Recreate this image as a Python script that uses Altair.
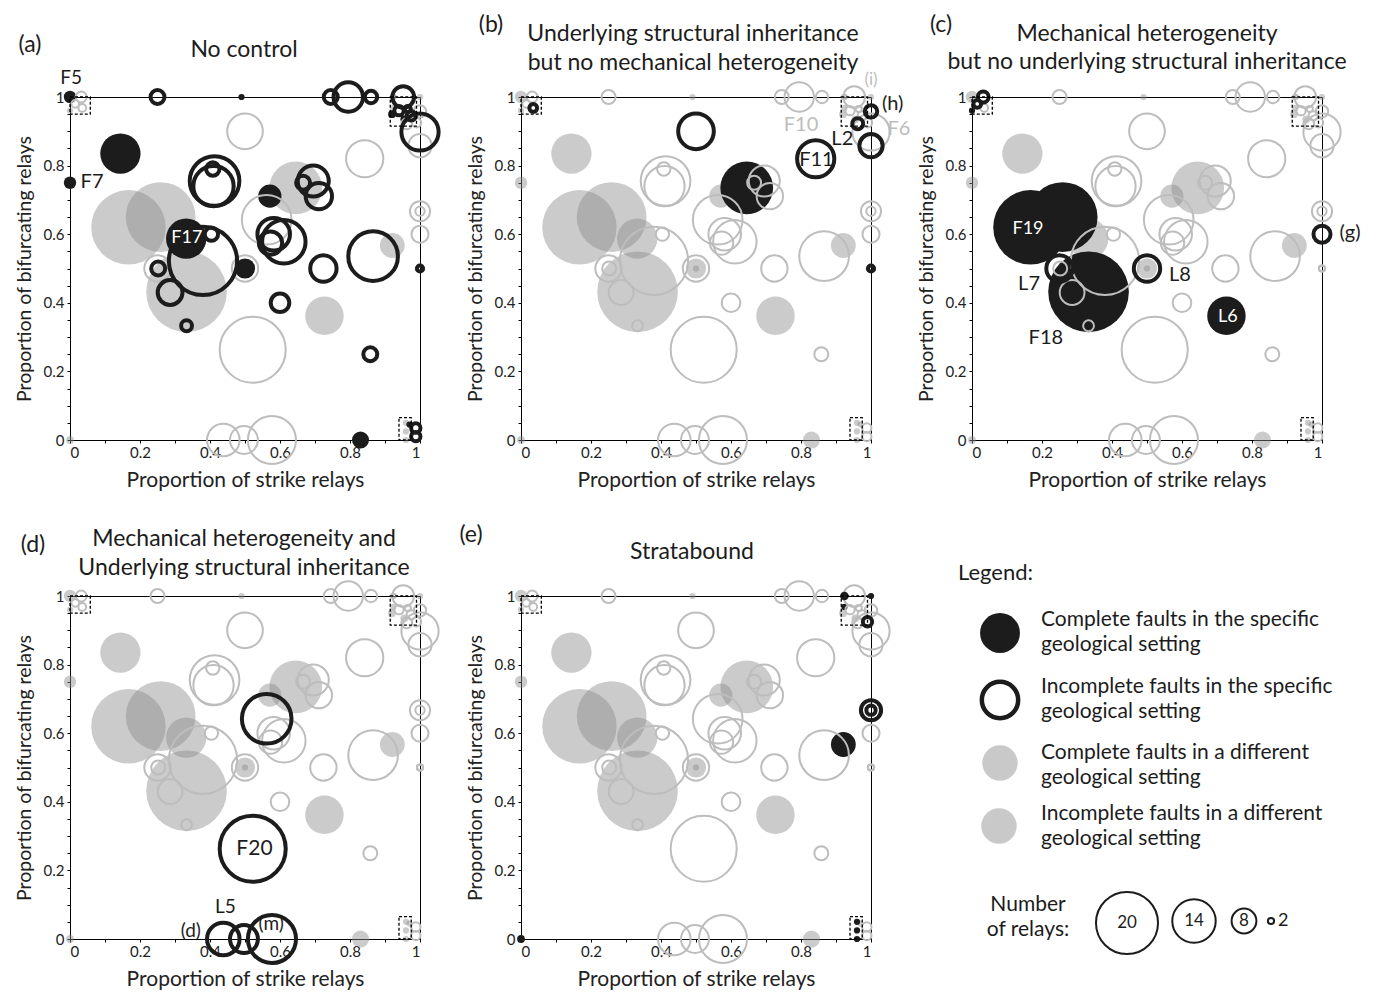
import altair as alt
import pandas as pd

# ---------------- fault data (x = proportion strike relays, y = proportion bifurcating relays, n = number of relays)
# setting a : no control
a_x = [0.0, 0.0, 0.144, 0.332, 0.571, 0.5, 0.83, 0.49, 0.92, 0.955, 0.97,
       0.25, 0.745, 0.795, 0.86, 0.952, 1.0, 0.408, 0.413, 0.41, 0.38, 0.404, 0.252, 0.286, 0.333,
       0.6, 0.582, 0.611, 0.573, 0.666, 0.695, 0.711, 0.724, 0.866, 0.858, 1.0, 0.94, 0.975, 0.965,
       0.988, 0.988]
a_y = [1.0, 0.75, 0.835, 0.587, 0.711, 0.5, 0.0, 1.0, 0.95, 0.935, 0.045,
       1.0, 1.0, 1.0, 1.0, 1.0, 0.898, 0.79, 0.755, 0.74, 0.522, 0.6, 0.5, 0.43, 0.333,
       0.4, 0.6, 0.578, 0.574, 0.75, 0.755, 0.711, 0.5, 0.536, 0.25, 0.5, 0.96, 0.945, 0.965,
       0.035, 0.01]
a_n = [4, 4, 13, 13, 7.5, 6.5, 5.5, 2, 2.5, 2.5, 2,
       4.5, 4.5, 9.5, 4, 7, 12, 4.3, 16, 13, 22, 4.3, 4.5, 8, 3.5,
       6, 10.5, 14, 7.5, 4.5, 10, 8.5, 8.5, 16, 4.5, 2, 3, 3, 2,
       3, 3]
a_complete = [1] * 11 + [0] * 30

# setting b : underlying structural inheritance, no mechanical heterogeneity
b_x = [0.645, 0.5, 0.842, 1.0, 1.0, 0.962, 0.035, 1.0]
b_y = [0.735, 0.9, 0.82, 0.858, 0.958, 0.922, 0.968, 0.5]
b_n = [17, 11.5, 12, 7.5, 4, 3.5, 2.5, 2]
b_complete = [1, 0, 0, 0, 0, 0, 0, 0]

# setting c : mechanical heterogeneity, no underlying structural inheritance
c_x = [0.167, 0.259, 0.333, 0.727, 0.0, 0.5, 1.0, 0.25, 0.032, 0.015]
c_y = [0.62, 0.65, 0.432, 0.362, 0.96, 0.5, 0.6, 0.5, 1.0, 0.98]
c_n = [24, 22.5, 26, 12.4, 2, 8.5, 5.5, 8.5, 3.5, 2.5]
c_complete = [1, 1, 1, 1, 1, 0, 0, 0, 0, 0]

# setting d : mechanical heterogeneity and underlying structural inheritance
d_x = [0.562, 0.522, 0.438, 0.497, 0.577]
d_y = [0.642, 0.263, 0.0, 0.0, 0.0]
d_n = [16, 21.3, 10.5, 9, 15.5]
d_complete = [0, 0, 0, 0, 0]

# setting e : stratabound
e_x = [0.921, 0.0, 0.924, 1.0, 0.96, 0.96, 0.96, 1.0, 1.0, 0.99, 0.924]
e_y = [0.567, 0.0, 0.968, 1.0, 0.05, 0.025, 0.0, 0.667, 0.667, 0.925, 1.0]
e_n = [8, 2.5, 2, 2, 2, 2, 2, 6.5, 3, 3, 1.5]
e_complete = [1, 1, 1, 1, 1, 1, 1, 0, 0, 0, 0]

# fault not highlighted in any panel
z_x = [0.5]
z_y = [0.5]
z_n = [2]
z_complete = [1]

# dashed inset boxes
box_x0 = [0.0, 0.915, 0.94]
box_x1 = [0.058, 0.99, 0.975]
box_y0 = [0.95, 0.915, 0.0]
box_y1 = [1.0, 1.0, 0.065]

# fault labels
label_panel = ['a', 'a', 'a', 'b', 'b', 'b', 'b', 'b', 'b', 'c', 'c', 'c', 'c', 'c', 'c', 'd', 'd', 'd', 'd']
label_text = ['F5', 'F7', 'F17', '(i)', '(h)', 'F10', 'F6', 'L2', 'F11', 'F19', 'L7', 'L8', 'L6', 'F18', '(g)',
              'F20', 'L5', '(d)', '(m)']
label_x = [0.003, 0.063, 0.334, 1.0, 1.062, 0.80, 1.08, 0.918, 0.844, 0.16, 0.163, 0.594, 0.731, 0.211, 1.08,
           0.527, 0.444, 0.345, 0.575]
label_y = [1.056, 0.751, 0.589, 1.049, 0.98, 0.919, 0.907, 0.878, 0.817, 0.615, 0.455, 0.481, 0.359, 0.297, 0.603,
           0.261, 0.093, 0.023, 0.043]
label_color = ['#1c1c1c', '#1c1c1c', 'white', '#bdbdbd', '#1c1c1c', '#bdbdbd', '#bdbdbd', '#1c1c1c', '#1c1c1c',
               'white', '#1c1c1c', '#1c1c1c', 'white', '#1c1c1c', '#1c1c1c', '#1c1c1c', '#1c1c1c', '#1c1c1c',
               '#1c1c1c']
label_size = [19, 20, 18, 17, 20, 20, 20, 20, 20, 18, 20, 20, 18, 20, 20, 21, 19, 19, 19]

# legend content
legend_sym_y = [37, 104, 167, 230]
legend_lines = ['Complete faults in the specific', 'geological setting',
                'Incomplete faults in the specific', 'geological setting',
                'Complete faults in a different', 'geological setting',
                'Incomplete faults in a different', 'geological setting']
legend_line_y = [24, 49, 91, 116, 157, 182, 218, 243]
size_key_n = [20, 14, 8, 2]
size_key_x = [155, 222, 272, 299]
size_key_y = [327, 325, 325, 325]
size_key_label = ['20', '14', '8', '']

# ---------------- build tables
rows = []
for key, xs_, ys_, ns_, cs_ in [('a', a_x, a_y, a_n, a_complete), ('b', b_x, b_y, b_n, b_complete),
                                ('c', c_x, c_y, c_n, c_complete), ('d', d_x, d_y, d_n, d_complete),
                                ('e', e_x, e_y, e_n, e_complete), ('z', z_x, z_y, z_n, z_complete)]:
    for xv, yv, nv, cv in zip(xs_, ys_, ns_, cs_):
        rows.append({'x': xv, 'y': yv, 'n': nv, 'complete': cv, 'setting': key})
faults = pd.DataFrame(rows)
boxes = pd.DataFrame({'bx0': box_x0, 'bx1': box_x1, 'by0': box_y0, 'by1': box_y1})
labels = pd.DataFrame({'panel': label_panel, 'text': label_text, 'lx': label_x, 'ly': label_y,
                       'col': label_color, 'fs': label_size})

FONT = 'Lato'
BLACK = '#1c1c1c'
GRAY_FILL = '#8c8c8c'
GRAY_LINE = '#bdbdbd'
W, H = 350, 343

x_scale = alt.Scale(domain=[0, 1], nice=False, zero=False)
y_scale = alt.Scale(domain=[0, 1], nice=False, zero=False)
size_scale = alt.Scale(type='pow', exponent=2, domain=[0, 20], range=[0, 3848])

x_axis = alt.Axis(values=[i / 10 for i in range(11)],
                  labelExpr="round(datum.value*10) % 2 == 0 ? format(datum.value, '~g') : ''",
                  title='Proportion of strike relays', grid=False, tickSize=3, tickColor='black',
                  domainColor='black', labelFontSize=15, labelColor='#222', titleFontSize=21,
                  titleFontWeight='normal', titleColor='#222', labelPadding=2, titlePadding=9,
                  labelFont=FONT, titleFont=FONT)
y_axis = alt.Axis(values=[i / 20 for i in range(21)],
                  labelExpr="round(datum.value*20) % 4 == 0 ? format(datum.value, '~g') : ''",
                  title='Proportion of  bifurcating relays', grid=False, tickSize=3, tickColor='black',
                  domainColor='black', labelFontSize=15, labelColor='#222', titleFontSize=19.5,
                  titleFontWeight='normal', titleColor='#222', labelPadding=3, titlePadding=9,
                  labelFont=FONT, titleFont=FONT)


def X(field):
    return alt.X(field, scale=x_scale, axis=x_axis)


def Y(field):
    return alt.Y(field, scale=y_scale, axis=y_axis)


def text_layer(t, px, py, size=23, color='#1c1c1c', align='center'):
    return alt.Chart(pd.DataFrame({'t': [t]})).mark_text(
        font=FONT, fontSize=size, color=color, align=align, baseline='middle').encode(
        text='t:N', x=alt.value(px), y=alt.value(py))


def panel(key, title_lines, letter, letter_xy):
    base = alt.Chart(faults)
    s = alt.Size('n:Q', scale=size_scale, legend=None)
    gf = base.transform_filter(f"datum.setting != '{key}' && datum.complete == 1").mark_circle(
        color=GRAY_FILL, opacity=0.45).encode(x=X('x:Q'), y=Y('y:Q'), size=s)
    bf = base.transform_filter(f"datum.setting == '{key}' && datum.complete == 1").mark_circle(
        color=BLACK, opacity=1).encode(x=X('x:Q'), y=Y('y:Q'), size=s)
    gr = base.transform_filter(f"datum.setting != '{key}' && datum.complete == 0").mark_point(
        shape='circle', filled=False, color=GRAY_LINE, strokeWidth=2, opacity=1).encode(
        x=X('x:Q'), y=Y('y:Q'), size=s)
    br = base.transform_filter(f"datum.setting == '{key}' && datum.complete == 0").mark_point(
        shape='circle', filled=False, color=BLACK, strokeWidth=4, opacity=1).encode(
        x=X('x:Q'), y=Y('y:Q'), size=s)
    bx = alt.Chart(boxes).mark_rect(fillOpacity=0, stroke='black', strokeWidth=1.3, strokeDash=[3, 2]).encode(
        x=X('bx0:Q'), x2='bx1:Q', y=Y('by0:Q'), y2='by1:Q')
    lb = alt.Chart(labels).transform_filter(f"datum.panel == '{key}'").mark_text(
        font=FONT, align='center', baseline='middle').encode(
        x=X('lx:Q'), y=Y('ly:Q'), text='text:N', color=alt.Color('col:N', scale=None),
        size=alt.Size('fs:Q', scale=None))
    layers = [gf, bf, gr, br, bx, lb]
    for t, px, py in title_lines:
        layers.append(text_layer(t, px, py, 23))
    layers.append(text_layer(letter, letter_xy[0], letter_xy[1], 23))
    return alt.layer(*layers).properties(width=W, height=H)


pa = panel('a', [('No control', 174, -47)], '(a)', (-40, -52))
pb = panel('b', [('Underlying structural inheritance', 172, -63), ('but no mechanical heterogeneity', 172, -34)],
           '(b)', (-30, -72))
pc = panel('c', [('Mechanical heterogeneity', 175, -63), ('but no underlying structural inheritance', 175, -35)],
           '(c)', (-31, -72))
pd_ = panel('d', [('Mechanical heterogeneity and', 174, -57), ('Underlying structural inheritance', 174, -28)],
            '(d)', (-37, -51))
pe = panel('e', [('Stratabound', 171, -44)], '(e)', (-50, -61))

# ---------------- legend panel
lx_scale = alt.Scale(domain=[0, 350], nice=False, zero=False)
ly_scale = alt.Scale(domain=[0, 343], nice=False, zero=False, reverse=True)
leg_sym = pd.DataFrame({'sx': [28, 28, 28, 27], 'sy': legend_sym_y, 'kind': ['bf', 'br', 'gf', 'gf']})
leg_txt = pd.DataFrame({'tx': [69] * 8, 'ty': legend_line_y, 't': legend_lines})
leg_size = pd.DataFrame({'kx': size_key_x, 'ky': size_key_y, 'n': size_key_n, 'lab': size_key_label})


def LX(f):
    return alt.X(f, scale=lx_scale, axis=None)


def LY(f):
    return alt.Y(f, scale=ly_scale, axis=None)


l1 = alt.Chart(leg_sym).transform_filter("datum.kind == 'bf'").mark_circle(color=BLACK, opacity=1, size=1590).encode(
    x=LX('sx:Q'), y=LY('sy:Q'))
l2 = alt.Chart(leg_sym).transform_filter("datum.kind == 'br'").mark_point(
    shape='circle', filled=False, color=BLACK, strokeWidth=4.5, opacity=1, size=1320).encode(x=LX('sx:Q'), y=LY('sy:Q'))
l3 = alt.Chart(leg_sym).transform_filter("datum.kind == 'gf'").mark_circle(color='#c9c9c9', opacity=1, size=1257).encode(
    x=LX('sx:Q'), y=LY('sy:Q'))
l4 = alt.Chart(leg_txt).mark_text(font=FONT, fontSize=21, align='left', baseline='middle', color='#1c1c1c').encode(
    x=LX('tx:Q'), y=LY('ty:Q'), text='t:N')
l5 = alt.Chart(leg_size).mark_point(shape='circle', filled=False, color=BLACK, strokeWidth=2, opacity=1).encode(
    x=LX('kx:Q'), y=LY('ky:Q'), size=alt.Size('n:Q', scale=size_scale, legend=None))
l6 = alt.Chart(leg_size).mark_text(font=FONT, fontSize=17, align='center', baseline='middle', color='#1c1c1c').encode(
    x=LX('kx:Q'), y=LY('ky:Q'), text='lab:N')
legend_panel = alt.layer(
    l1, l2, l3, l4, l5, l6,
    text_layer('Legend:', -14, -23, 22, align='left'),
    text_layer('Number', 56, 309, 21),
    text_layer('of relays:', 56, 334, 21),
    text_layer('2', 306, 325, 18, align='left'),
).properties(width=W, height=H, view=alt.ViewBackground(stroke='transparent'))

chart = alt.concat(pa, pb, pc, pd_, pe, legend_panel, columns=3, bounds='flush',
                   spacing={'row': 156, 'column': 101}).configure(
    font=FONT, view=alt.ViewConfig(stroke='black', strokeWidth=1))

chart.save('out.html', embed_options={'renderer': 'svg', 'actions': False})
